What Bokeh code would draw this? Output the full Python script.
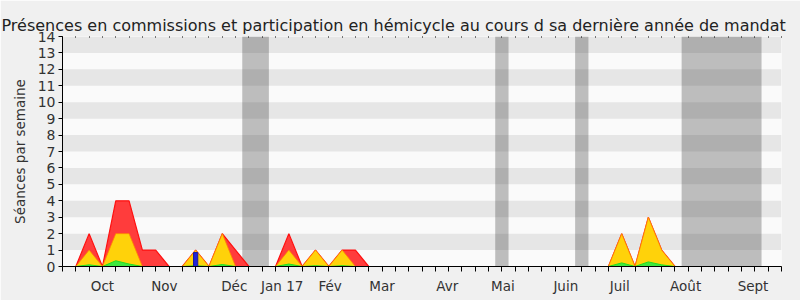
from bokeh.plotting import figure
from bokeh.models import FixedTicker, CustomJSTickFormatter, LinearAxis, Range1d
from bokeh.embed import file_html
from bokeh.resources import INLINE

# Week index along the x axis (one point per week)
weeks = [0, 1, 2, 3, 4, 5, 6, 7, 8, 9, 10, 11, 12, 13, 14, 15, 16, 17, 18, 19,
         20, 21, 22, 23, 24, 25, 26, 27, 28, 29, 30, 31, 32, 33, 34, 35, 36, 37,
         38, 39, 40, 41, 42, 43, 44, 45, 46, 47, 48, 49, 50, 51, 52, 53, 54]

# Sessions per week
presences_total = [0, 0, 2, 0, 4, 4, 1, 1, 0, 0, 1, 0, 2, 1, 0, 0, 0, 2, 0, 1,
                   0, 1, 1, 0, 0, 0, 0, 0, 0, 0, 0, 0, 0, 0, 0, 0, 0, 0,
                   0, 0, 0, 0, 2, 0, 3, 1, 0, 0, 0, 0, 0, 0, 0, 0, 0]
presences_hemicycle = [0, 0, 1, 0, 2, 2, 0, 0, 0, 0, 1, 0, 2, 0, 0, 0, 0, 1, 0, 1,
                       0, 1, 0, 0, 0, 0, 0, 0, 0, 0, 0, 0, 0, 0, 0, 0, 0, 0,
                       0, 0, 0, 0, 2, 0, 3, 1, 0, 0, 0, 0, 0, 0, 0, 0, 0]
interventions = [0, 0, 0.1, 0, 0.35, 0.15, 0, 0, 0, 0, 0.05, 0, 0.12, 0, 0, 0, 0, 0.15, 0, 0.05,
                 0, 0.05, 0, 0, 0, 0, 0, 0, 0, 0, 0, 0, 0, 0, 0, 0, 0, 0,
                 0, 0, 0, 0, 0.22, 0, 0.28, 0.1, 0, 0, 0, 0, 0, 0, 0, 0, 0]
question_weeks = [10]
questions = [0.85]

# Parliamentary recess periods (in weeks)
recess_start = [13.5, 32.5, 38.5, 46.5]
recess_end = [15.5, 33.5, 39.5, 52.5]

# Month labels and where they sit on the week axis
month_pos = [3.0, 7.65, 12.9, 16.5, 20.1, 24.0, 28.9, 33.07, 37.8, 41.85, 46.8, 51.86]
month_labels = ["Oct", "Nov", "Déc", "Jan 17", "Fév", "Mar", "Avr", "Mai", "Juin", "Juil", "Août", "Sept"]
y_ticks = [0, 1, 2, 3, 4, 5, 6, 7, 8, 9, 10, 11, 12, 13, 14]

FONT = "DejaVu Sans"

p = figure(width=800, height=300, output_backend="svg", toolbar_location=None,
           x_range=Range1d(0, 54), y_range=Range1d(0, 14),
           title="Présences en commissions et participation en hémicycle au cours d sa dernière année de mandat",
           min_border_left=62, min_border_right=19, min_border_top=36, min_border_bottom=34,
           background_fill_color="#fafafa", border_fill_color="#f0f0f0",
           outline_line_color=None)

p.title.text_font = FONT
p.title.text_font_size = "16px"
p.title.text_font_style = "normal"
p.title.text_color = "#222222"
p.title.offset = -61
p.title.standoff = 3

# horizontal bands
p.xgrid.visible = False
p.ygrid.ticker = FixedTicker(ticks=y_ticks)
p.ygrid.grid_line_color = None
p.ygrid.band_fill_color = "#e6e6e6"
p.ygrid.band_fill_alpha = 1.0

# recess shading
p.quad(left=recess_start, right=recess_end, bottom=0, top=14,
       fill_color="#323232", fill_alpha=0.3, line_color=None)

# stacked presence areas
p.varea(x=weeks, y1=0, y2=presences_total, fill_color="#ff3c3c")
p.line(weeks, presences_total, line_color="#ff1010", line_width=1.2)
p.varea(x=weeks, y1=0, y2=presences_hemicycle, fill_color="#ffd20a")
p.line(weeks, presences_hemicycle, line_color="#ff8a00", line_width=1, line_alpha=0.8)
p.varea(x=weeks, y1=0, y2=interventions, fill_color="#3ee83e")
p.line(weeks, interventions, line_color="#22dd22", line_width=1)
p.vbar(x=question_weeks, top=questions, width=0.32, fill_color="#2323d6", line_color="#1a1aa0")

# x axis: weekly ticks, month labels
xa = p.xaxis[0]
xa.ticker = FixedTicker(ticks=month_pos, minor_ticks=weeks)
xa.formatter = CustomJSTickFormatter(args=dict(labels=month_labels), code="return labels[index];")
xa.major_tick_in = 0
xa.major_tick_out = 0
xa.minor_tick_in = 0
xa.minor_tick_out = 5
xa.minor_tick_line_color = "#000000"
xa.axis_line_color = "#000000"
xa.major_label_text_font = FONT
xa.major_label_text_font_size = "13.5px"
xa.major_label_text_color = "#333333"
xa.major_label_standoff = 6

# y axis
ya = p.yaxis[0]
ya.ticker = FixedTicker(ticks=y_ticks)
ya.major_tick_in = 0
ya.major_tick_out = 4
ya.minor_tick_line_color = None
ya.axis_line_color = "#000000"
ya.major_label_text_font = FONT
ya.major_label_text_font_size = "14px"
ya.major_label_text_color = "#333333"
ya.major_label_standoff = 3
ya.axis_label = "Séances par semaine"
ya.axis_label_text_font = FONT
ya.axis_label_text_font_size = "13.5px"
ya.axis_label_text_font_style = "normal"
ya.axis_label_text_color = "#333333"
ya.axis_label_standoff = 7

# dotted weekly marks along the top edge
top = LinearAxis(ticker=FixedTicker(ticks=[], minor_ticks=weeks))
top.axis_line_color = None
top.major_tick_line_color = None
top.major_label_text_font_size = "0px"
top.minor_tick_in = 1
top.minor_tick_out = 0
top.minor_tick_line_color = "#000000"
p.add_layout(top, "above")

open("out.html", "w").write(file_html(p, INLINE))
